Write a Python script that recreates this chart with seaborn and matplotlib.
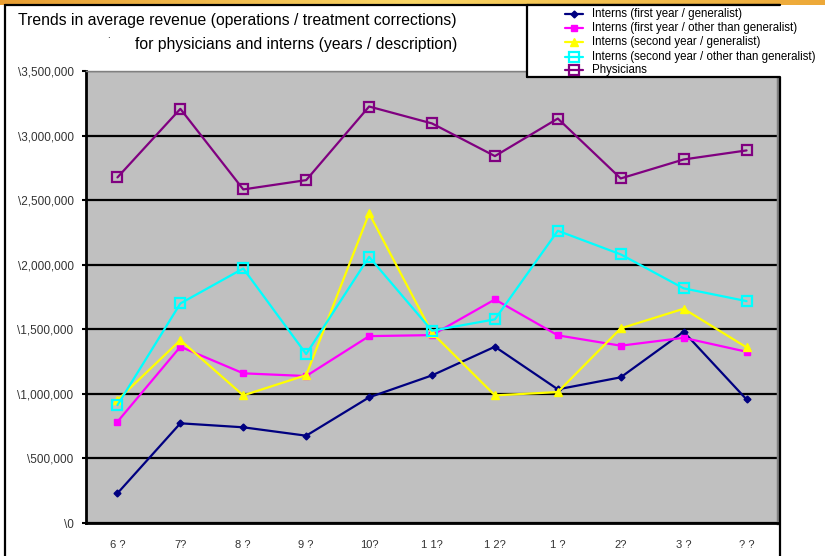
import numpy as np
import pandas as pd
import matplotlib
matplotlib.use("Agg")
import matplotlib.pyplot as plt
from matplotlib.ticker import FuncFormatter, FixedLocator
from matplotlib.patches import Rectangle
from matplotlib.lines import Line2D
import seaborn as sns

# Month labels along the x axis
months = ["6 ?", "7?", "8 ?", "9 ?", "10?", "1 1?", "1 2?", "1 ?", "2?", "3 ?", "? ?"]

# Average revenue per month for each group
interns_y1_general = [230000, 772000, 741000, 676000, 973000, 1143000, 1365000, 1035000, 1128000, 1481000, 957000]
interns_y1_other = [784000, 1365000, 1159000, 1138000, 1447000, 1455000, 1731000, 1453000, 1373000, 1434000, 1326000]
interns_y2_general = [952000, 1416000, 988000, 1145000, 2397000, 1473000, 988000, 1014000, 1507000, 1659000, 1360000]
interns_y2_other = [913000, 1700000, 1971000, 1308000, 2061000, 1489000, 1577000, 2263000, 2080000, 1817000, 1718000]
physicians = [2676000, 3207000, 2583000, 2655000, 3225000, 3094000, 2841000, 3132000, 2668000, 2815000, 2885000]

series_names = [
    "Interns (first year / generalist)",
    "Interns (first year / other than generalist)",
    "Interns (second year / generalist)",
    "Interns (second year / other than generalist)",
    "Physicians",
]
series_values = [interns_y1_general, interns_y1_other, interns_y2_general, interns_y2_other, physicians]

df = pd.DataFrame({
    "pos": np.tile(np.arange(len(months)), len(series_names)),
    "revenue": np.concatenate(series_values),
    "group": np.repeat(series_names, len(months)),
})

sns.set_theme(style="white")
plt.rcParams["font.family"] = ["Liberation Sans", "DejaVu Sans"]

W, H = 825, 556
fig = plt.figure(figsize=(W / 100, H / 100), dpi=100)
fig.patch.set_facecolor("white")


def fx(px):
    return px / W


def fy(py):
    return 1 - py / H


# golden strip along the top edge
strip = fig.add_axes([0, fy(5), 1, 5 / H])
grad = np.linspace(0, 1, 256)
cols = np.array([[0.91, 0.62, 0.20], [0.98, 0.84, 0.40], [0.93, 0.66, 0.22]])
rgb = np.empty((1, 256, 3))
for c in range(3):
    rgb[0, :, c] = np.interp(grad, [0, 0.5, 1], cols[:, c])
strip.imshow(rgb, aspect="auto", extent=[0, 1, 0, 1])
strip.set_axis_off()

# outer chart frame
frame_kw = dict(transform=fig.transFigure, color="black", linewidth=1.6, zorder=1)
fig.add_artist(Line2D([fx(5), fx(5)], [fy(5), -0.01], **frame_kw))
fig.add_artist(Line2D([fx(5), fx(780)], [fy(5), fy(5)], **frame_kw))
fig.add_artist(Line2D([fx(780), fx(780)], [fy(77), -0.01], **frame_kw))

ax = fig.add_axes([fx(86), fy(523), (778 - 86) / W, (523 - 71) / H])
ax.set_facecolor("#C0C0C0")

styles = {
    series_names[0]: dict(color="#000080", marker="D", ms=3.5, mfc="#000080", mec="#000080", mew=1),
    series_names[1]: dict(color="#FF00FF", marker="s", ms=5, mfc="#FF00FF", mec="#FF00FF", mew=1),
    series_names[2]: dict(color="#FFFF00", marker="^", ms=6, mfc="#FFFF00", mec="#FFFF00", mew=1),
    series_names[3]: dict(color="#00FFFF", marker="s", ms=7, mfc="none", mec="#00FFFF", mew=1.6),
    series_names[4]: dict(color="#800080", marker="s", ms=7, mfc="none", mec="#800080", mew=1.6),
}

for name in series_names:
    st = styles[name]
    sns.lineplot(data=df[df["group"] == name], x="pos", y="revenue", ax=ax,
                 color=st["color"], linewidth=1.6, marker=st["marker"],
                 markersize=st["ms"], markerfacecolor=st["mfc"],
                 markeredgecolor=st["mec"], markeredgewidth=st["mew"],
                 label=name, zorder=3)

ax.set_xlim(-0.5, len(months) - 0.5)
ax.set_ylim(0, 3500000)
ax.set_xlabel("")
ax.set_ylabel("")

ax.yaxis.set_major_locator(FixedLocator(np.arange(0, 3500001, 500000)))
ax.yaxis.set_major_formatter(FuncFormatter(lambda v, p: "\\{:,.0f}".format(v)))
ax.grid(axis="y", color="black", linewidth=1.6, zorder=1)
ax.grid(axis="x", visible=False)
ax.set_axisbelow(True)

ax.set_xticks(np.arange(len(months)))
ax.set_xticklabels(months)
ax.xaxis.set_minor_locator(FixedLocator(np.arange(0.5, len(months), 1)))
ax.tick_params(axis="x", which="major", length=0, pad=12, labelsize=8, labelcolor="#333333")
ax.tick_params(axis="x", which="minor", direction="in", length=4, width=1.5, color="black")
ax.tick_params(axis="y", which="major", direction="out", length=3, width=1.5, color="black",
               pad=6, labelsize=8.5, labelcolor="#333333", left=True)

for side in ["left", "bottom"]:
    ax.spines[side].set_color("black")
    ax.spines[side].set_linewidth(2)
ax.spines["right"].set_color("#808080")
ax.spines["right"].set_linewidth(2.5)
ax.spines["top"].set_color("#808080")
ax.spines["top"].set_linewidth(1)

ax.get_legend().remove()

fig.text(fx(18), fy(21), "Trends in average revenue (operations / treatment corrections)",
         fontsize=11.3, color="black", ha="left", va="center")
fig.text(fx(135), fy(45), "for physicians and interns (years / description)",
         fontsize=11.3, color="black", ha="left", va="center")
fig.text(fx(107), fy(35), ".", fontsize=7, color="black", ha="left", va="center")

# legend box: white panel with left / top / bottom borders
fig.add_artist(Rectangle((fx(527), fy(77)), fx(830) - fx(527), fy(5) - fy(77),
                         transform=fig.transFigure, facecolor="white",
                         edgecolor="none", zorder=5))
leg_kw = dict(transform=fig.transFigure, color="black", linewidth=1.6, zorder=6)
fig.add_artist(Line2D([fx(527), fx(527)], [fy(5), fy(77)], **leg_kw))
fig.add_artist(Line2D([fx(527), fx(780)], [fy(5), fy(5)], **leg_kw))
fig.add_artist(Line2D([fx(527), fx(780)], [fy(77), fy(77)], **leg_kw))

row_y = [14, 28, 42, 57, 70]
for name, ry in zip(series_names, row_y):
    st = styles[name]
    fig.add_artist(Line2D([fx(565), fx(583)], [fy(ry), fy(ry)], transform=fig.transFigure,
                          color=st["color"], linewidth=1.6, zorder=7))
    fig.add_artist(Line2D([fx(574)], [fy(ry)], transform=fig.transFigure,
                          linestyle="none", marker=st["marker"], markersize=st["ms"],
                          markerfacecolor=st["mfc"], markeredgecolor=st["mec"],
                          markeredgewidth=st["mew"], zorder=8))
    fig.text(fx(592), fy(ry), name, fontsize=8.3, color="black",
             ha="left", va="center", zorder=8)

fig.savefig("out.png", dpi=100)
